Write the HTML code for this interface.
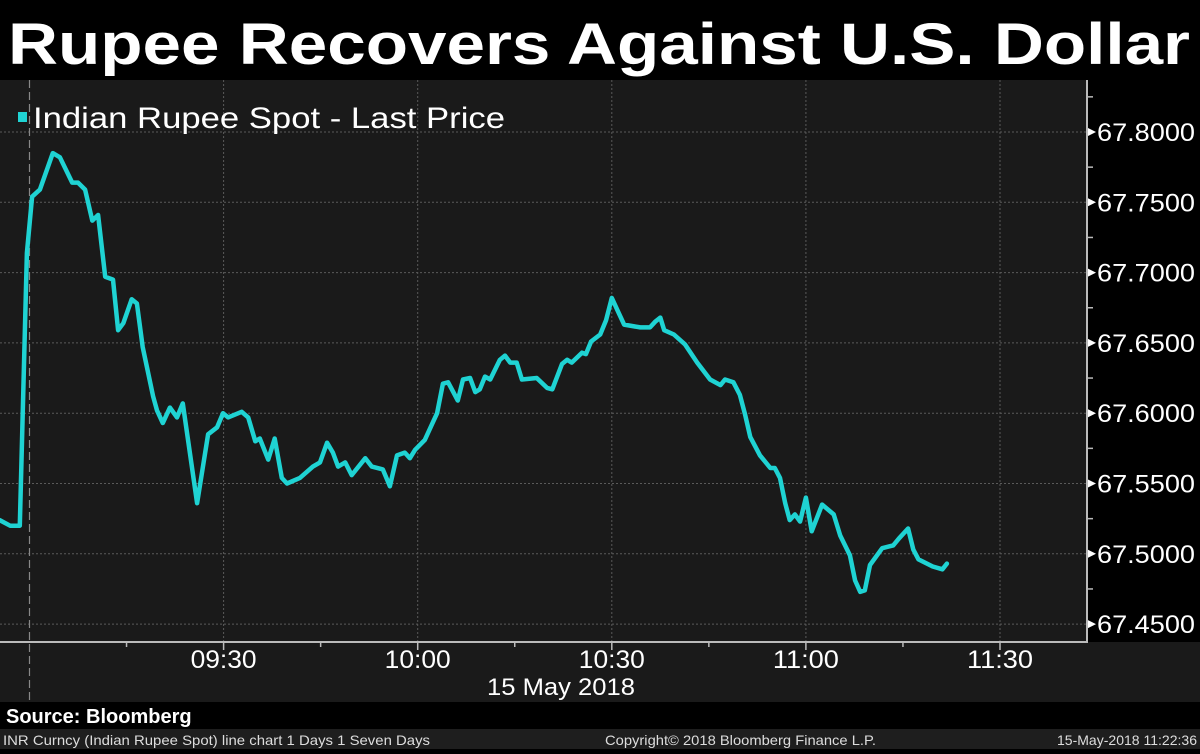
<!DOCTYPE html>
<html><head><meta charset="utf-8"><style>
html,body{margin:0;padding:0;background:#000;}
body{width:1200px;height:749px;overflow:hidden;font-family:"Liberation Sans",sans-serif;}
</style></head><body>
<svg id="chart" width="1200" height="749" viewBox="0 0 1200 749" xmlns="http://www.w3.org/2000/svg">
  <rect x="0" y="0" width="1200" height="80" fill="#000"/>
  <text x="8" y="64" font-family="Liberation Sans, sans-serif" font-weight="bold" font-size="58" fill="#fff" textLength="1182" lengthAdjust="spacingAndGlyphs">Rupee Recovers Against U.S. Dollar</text>
  <rect x="0" y="80" width="1087" height="562" fill="#1a1a1a"/>
  <rect x="1087" y="80" width="113" height="562" fill="#000"/>
  <rect x="0" y="642" width="1200" height="60" fill="#1a1a1a"/>
  <rect x="0" y="702" width="1200" height="27" fill="#000"/>
  <rect x="0" y="729" width="1200" height="20" fill="#1e1e1e"/>
  <g id="grid"></g>
  <g id="axes"></g>
  <g id="series"></g>
  <rect x="18" y="112" width="9" height="10" fill="#1fd3d3"/>
  <text x="33" y="128" font-size="30" fill="#fff" textLength="472" lengthAdjust="spacingAndGlyphs">Indian Rupee Spot - Last Price</text>
  <text x="561" y="695" font-size="24" fill="#fff" text-anchor="middle" textLength="148" lengthAdjust="spacingAndGlyphs">15 May 2018</text>
  <text x="6" y="723" font-size="20" font-weight="bold" fill="#fff">Source: Bloomberg</text>
  <text x="3" y="745" font-size="14" fill="#ddd" textLength="427" lengthAdjust="spacingAndGlyphs">INR Curncy (Indian Rupee Spot) line chart 1 Days 1 Seven Days</text>
  <text x="605" y="745" font-size="14" fill="#ddd" textLength="271" lengthAdjust="spacingAndGlyphs">Copyright© 2018 Bloomberg Finance L.P.</text>
  <text x="1197" y="745" font-size="14" fill="#ddd" text-anchor="end" textLength="140" lengthAdjust="spacingAndGlyphs">15-May-2018 11:22:36</text>
</svg>
<script>
const minutes = [-4.6,-3.0,-1.5,-0.4,0.4,1.6,3.6,4.7,6.6,7.5,8.6,9.7,10.6,11.7,12.9,13.7,14.5,15.8,16.6,17.5,19.1,19.7,20.6,21.7,22.8,23.7,25.9,27.6,29.0,29.9,30.7,32.8,33.8,34.9,35.6,36.9,37.9,39.0,39.8,41.8,43.8,44.9,46.0,46.9,47.7,48.8,49.8,51.9,52.9,54.6,55.7,56.8,58.0,58.8,59.6,61.1,62.2,63.0,63.9,64.7,65.5,66.2,67.0,68.1,68.9,69.6,70.4,71.2,72.7,73.5,74.3,75.3,76.1,78.4,80.0,80.8,82.3,83.1,83.8,85.4,86.0,86.8,88.2,89.1,90.0,90.9,91.9,94.4,95.9,96.7,97.5,98.1,99.6,101.3,103.2,105.2,106.8,107.5,108.8,109.8,110.6,111.4,112.9,114.5,115.2,116.0,116.8,117.5,118.3,119.1,120.0,120.9,122.5,124.3,125.3,126.8,127.6,128.4,129.1,129.9,131.8,133.5,134.4,135.8,136.6,137.4,139.6,141.1,141.8];
const prices = [67.524,67.520,67.520,67.714,67.754,67.759,67.785,67.782,67.764,67.764,67.759,67.737,67.741,67.697,67.695,67.659,67.664,67.681,67.678,67.647,67.612,67.602,67.593,67.604,67.597,67.607,67.536,67.585,67.590,67.600,67.597,67.601,67.597,67.580,67.582,67.567,67.582,67.554,67.550,67.554,67.562,67.565,67.579,67.572,67.562,67.565,67.556,67.568,67.562,67.560,67.548,67.570,67.572,67.568,67.574,67.581,67.592,67.600,67.621,67.622,67.615,67.609,67.624,67.625,67.615,67.617,67.626,67.624,67.638,67.641,67.636,67.636,67.624,67.625,67.618,67.617,67.635,67.638,67.636,67.643,67.642,67.651,67.656,67.666,67.682,67.673,67.663,67.661,67.661,67.665,67.668,67.659,67.656,67.649,67.636,67.624,67.620,67.624,67.622,67.613,67.599,67.583,67.570,67.561,67.561,67.554,67.536,67.524,67.528,67.523,67.540,67.516,67.535,67.528,67.513,67.499,67.481,67.473,67.474,67.492,67.504,67.506,67.511,67.518,67.503,67.496,67.491,67.489,67.493];
const yTicks = [67.80,67.75,67.70,67.65,67.60,67.55,67.50,67.45];
const yTickLabels = ["67.8000","67.7500","67.7000","67.6500","67.6000","67.5500","67.5000","67.4500"];
const xTicks = [30,60,90,120,150];
const xTickLabels = ["09:30","10:00","10:30","11:00","11:30"];

const NS = "http://www.w3.org/2000/svg";
function xPos(m){ return 29.5 + m*6.47; }
function yPos(v){ return 132 + (67.8 - v)*1406; }
function mk(tag, attrs, parent){
  const e = document.createElementNS(NS, tag);
  for (const k in attrs) e.setAttribute(k, attrs[k]);
  parent.appendChild(e); return e;
}
const grid = document.getElementById('grid');
const axes = document.getElementById('axes');
const series = document.getElementById('series');

yTicks.forEach((v,i)=>{
  const y = yPos(v);
  const g = mk('line',{x1:0,x2:1087,y1:y,y2:y,stroke:'#5a5a5a','stroke-width':1,'stroke-dasharray':'2,2'},grid);
  
  
  const tri = mk('path',{d:`M1088 ${y-4} L1096 ${y} L1088 ${y+4} Z`,fill:'#fff'},axes);
  
  
  const t = mk('text',{x:1097,y:y+9,'font-size':25,fill:'#fff',textLength:98,lengthAdjust:'spacingAndGlyphs'},axes);
  t.textContent = yTickLabels[i];
  
  
  const ym = yPos(v + 0.025);
  const mt = mk('line',{x1:1087,x2:1093,y1:ym,y2:ym,stroke:'#bbb','stroke-width':1.5},axes);
  
  
});
xTicks.forEach((m,i)=>{
  const x = xPos(m);
  const g = mk('line',{x1:x,x2:x,y1:80,y2:642,stroke:'#5a5a5a','stroke-width':1,'stroke-dasharray':'2,2'},grid);
  
  
  const tk = mk('line',{x1:x,x2:x,y1:642,y2:650,stroke:'#bbb','stroke-width':1.5},axes);
  
  
  const t = mk('text',{x:x,y:668,'font-size':25,fill:'#fff','text-anchor':'middle',textLength:66,lengthAdjust:'spacingAndGlyphs'},axes);
  t.textContent = xTickLabels[i];
  
  
  const xm = xPos(m - 15);
  const mt = mk('line',{x1:xm,x2:xm,y1:642,y2:647,stroke:'#bbb','stroke-width':1.5},axes);
  
  
});
const sess = mk('line',{x1:xPos(0),x2:xPos(0),y1:80,y2:700,stroke:'#888','stroke-width':1.2,'stroke-dasharray':'8,4'},grid);


const xa = mk('line',{x1:0,x2:1088,y1:642,y2:642,stroke:'#bbb','stroke-width':2},axes);


const ya = mk('line',{x1:1087,x2:1087,y1:80,y2:643,stroke:'#bbb','stroke-width':2},axes);



const pts = minutes.map((m,i)=>xPos(m).toFixed(1)+','+yPos(prices[i]).toFixed(1)).join(' ');
const line = mk('polyline',{points:pts,fill:'none',stroke:'#1fd3d3','stroke-width':4.5,'stroke-linejoin':'round','stroke-linecap':'round'},series);


</script>
</body></html>
